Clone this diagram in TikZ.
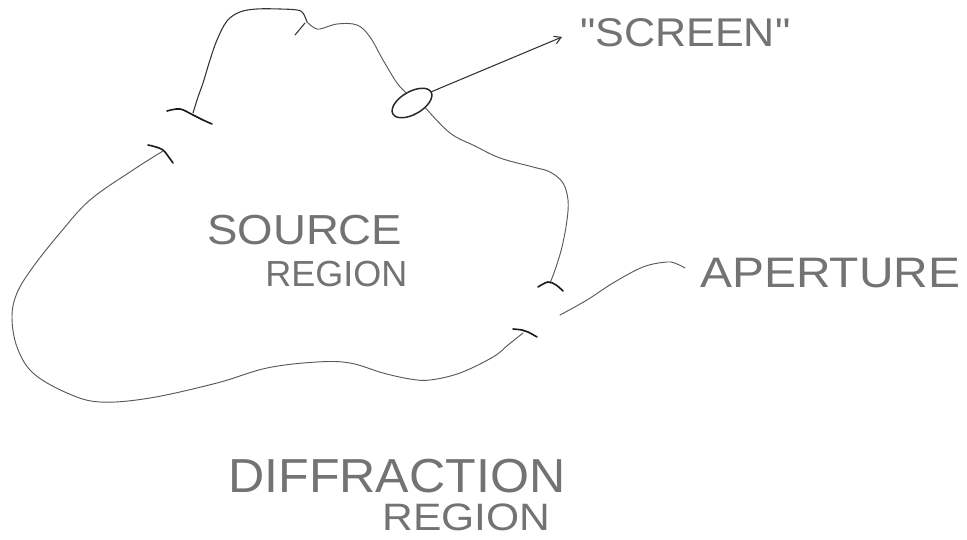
\documentclass[tikz,border=0pt]{standalone}
\usepackage{fontspec}
\usepackage{graphicx}
\usetikzlibrary{shapes.geometric,arrows.meta}
\newfontfamily\hand{Liberation Sans}
\tikzset{
  pen/.style={draw=black!80, line width=0.8pt, line cap=round, line join=round},
  faint/.style={draw=black!65, line width=0.7pt, line cap=round, line join=round},
  bar/.style={draw=black!90, line width=1.2pt, line cap=round},
  lbl/.style={inner sep=0pt, anchor=south west, text=black!55, font=\hand},
}
\begin{document}
\begin{tikzpicture}[x=0.75pt,y=-0.75pt]
\fill[white] (0,0) rectangle (967,539);
\useasboundingbox (0,0) rectangle (967,539);

% named points
\coordinate (tl) at (193,113);
\coordinate (tr) at (550,283);
\coordinate (bl) at (163,151);
\coordinate (br) at (523,333);
\coordinate (sctip) at (562,37);
\coordinate (apstart) at (560,315);
\coordinate (apend) at (685,268);

% screen ellipse
\node[draw=black!85, line width=1.1pt, ellipse, minimum width=33pt,
      minimum height=17pt, inner sep=0pt, rotate=30] (scr) at (412,103) {};

% labels
\node[lbl] (screenlbl) at (580,47) {\resizebox{157.5pt}{21pt}{"SCREEN"}};
\node[lbl] (source) at (207,245) {\resizebox{146.25pt}{22pt}{SOURCE}};
\node[lbl] (region1) at (265,287) {\resizebox{106.5pt}{19pt}{REGION}};
\node[lbl] (aperture) at (700,288) {\resizebox{195pt}{22pt}{APERTURE}};
\node[lbl] (diffr) at (228,493) {\resizebox{252.75pt}{25pt}{DIFFRACTION}};
\node[lbl] (region2) at (382,531) {\resizebox{126pt}{20pt}{REGION}};

% screen curve: left end up over the top to the ellipse
\draw[pen] plot[smooth,tension=0.6] coordinates {
  (tl) (198,97) (203,83) (210,60) (217,40) (227,21) (240,12) (257,9)
  (280,9) (297,10) (303,13) (307,22)};
\draw[faint] plot[smooth,tension=0.6] coordinates {
  (307,22) (313,27) (320,29) (337,24) (357,25) (370,37) (383,60) (397,83) (scr.north)};
\draw[pen] (295,35) -- (305,23);
% screen curve: ellipse down to right end
\draw[faint] plot[smooth,tension=0.6] coordinates {
  (scr.-50) (450,133) (475,146) (500,158) (533,167) (550,172) (563,183)
  (568,200) (567,220) (562,247) (555,270) (tr)};

% end bars
\draw[bar] plot[smooth,tension=0.6] coordinates {(167,111) (180,109) (193,115) (203,120) (212,124)};
\draw[bar] plot[smooth,tension=0.6] coordinates {(538,287) (548,282) (556,285) (563,291)};
\draw[bar] plot[smooth,tension=0.6] coordinates {(513,329) (522,330) (528,332) (537,337)};
\draw[bar] plot[smooth,tension=0.6] coordinates {(148,145) (156,147) (163,150) (168,156) (173,163)};

% big aperture curve around source region
\draw[faint] plot[smooth,tension=0.6] coordinates {
  (br) (508,345) (493,357) (460,373) (430,380) (410,379) (383,373) (350,363)
  (317,362) (267,368) (217,383) (150,398) (100,402) (67,393) (33,373)
  (17,347) (12,317) (17,293) (33,267) (60,233) (90,200) (133,170) (bl)};

% pointer to "SCREEN"
\draw[pen, -{Straight Barb[length=5pt,width=6pt]}] (scr.east) -- (sctip);

% pointer to APERTURE
\draw[faint] plot[smooth,tension=0.6] coordinates {
  (apstart) (587,300) (613,283) (643,267) (667,262) (677,264) (apend)};
\end{tikzpicture}
\end{document}
